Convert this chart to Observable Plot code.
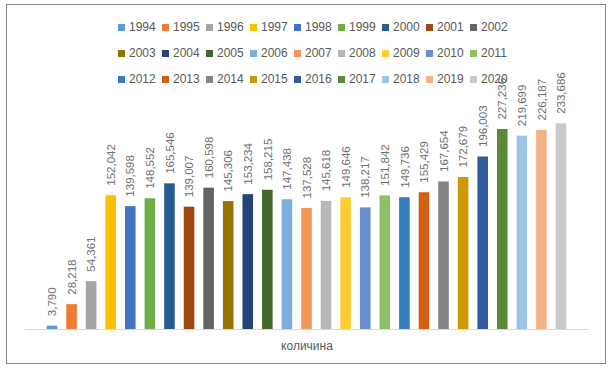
<!DOCTYPE html>
<html>
<head>
<meta charset="utf-8">
<script src="https://cdn.jsdelivr.net/npm/d3@7"></script>
<script src="https://cdn.jsdelivr.net/npm/@observablehq/plot@0.6"></script>
<style>
  html, body { margin: 0; padding: 0; background: #fff; }
  #wrap { position: relative; width: 611px; height: 375px; overflow: hidden; font-family: "Liberation Sans", Arial, sans-serif; }
  #frame { position: absolute; left: 6px; top: 4px; width: 600px; height: 360px; border: 1px solid #8a8a8a; box-sizing: border-box; }
  #legend { position: absolute; left: 118px; top: 0; width: 420px; }
  .item { position: absolute; display: flex; align-items: center; font-size: 12px; color: #595959; white-space: nowrap; }
  .sw { width: 7px; height: 7px; margin-right: 4px; }
  #chart { position: absolute; left: 0; top: 0; }
  #xlabel { position: absolute; left: 0; width: 614px; top: 339px; text-align: center; font-size: 12px; color: #595959; }
</style>
</head>
<body>
<div id="wrap">
  <div id="frame"></div>
  <div id="chart"></div>
  <div id="legend"></div>
  <div id="xlabel">количина</div>
</div>
<script>
const years = ["1994","1995","1996","1997","1998","1999","2000","2001","2002",
               "2003","2004","2005","2006","2007","2008","2009","2010","2011",
               "2012","2013","2014","2015","2016","2017","2018","2019","2020"];
const values = [3790, 28218, 54361, 152042, 139598, 148552, 165546, 139007, 160598,
                145306, 153234, 158215, 147438, 137528, 145618, 149646, 138217, 151842,
                149736, 155429, 167654, 172679, 196003, 227236, 219699, 226187, 233686];
const colors = ["#5B9BD5","#ED7D31","#A5A5A5","#FFC000","#4472C4","#70AD47","#255E91","#9E480E","#636363",
                "#997300","#264478","#43682B","#7CAFDD","#F1975A","#B7B7B7","#FFCD33","#698ED0","#8CC168",
                "#327DC2","#D26012","#848484","#CC9A00","#335AA1","#5A8A39","#9DC3E6","#F4B183","#C9C9C9"];
const xTitle = "количина";

const data = years.map((y, i) => ({year: y, value: values[i]}));
const fmt = d3.format(",");

const chart = Plot.plot({
  width: 611,
  height: 375,
  marginLeft: 25,
  marginRight: 22,
  marginTop: 109,
  marginBottom: 46,
  style: {background: "transparent", fontFamily: "Liberation Sans, Arial, sans-serif"},
  x: {domain: years, range: [42.2, 570.8], paddingInner: 0.46, paddingOuter: 0.23, round: false, axis: null},
  y: {domain: [0, 250000], axis: null},
  color: {domain: years, range: colors},
  marks: [
    Plot.barY(data, {x: "year", y: "value", fill: "year"}),
    Plot.text(data, {x: "year", y: "value", text: d => fmt(d.value), rotate: -90,
      textAnchor: "start", dy: -10, fill: "#6f6f6f", fontSize: 11.5}),
    Plot.ruleY([0], {stroke: "#d9d9d9", strokeWidth: 1.2}),
    Plot.ruleX([0], {x: () => 24.5, y1: 0, y2: 250000, stroke: "#d9d9d9"}),
    Plot.ruleX([0], {x: () => 588.5, y1: 0, y2: 250000, stroke: "#d9d9d9"})
  ]
});
document.getElementById("chart").appendChild(chart);
document.getElementById("xlabel").textContent = xTitle;

const legend = document.getElementById("legend");
years.forEach((y, i) => {
  const row = Math.floor(i / 9), col = i % 9;
  const it = document.createElement("div");
  it.className = "item";
  it.style.left = (col * 44) + "px";
  it.style.top = (27 + row * 26 - 8) + "px";
  it.style.height = "16px";
  const sw = document.createElement("span");
  sw.className = "sw";
  sw.style.background = colors[i];
  const t = document.createElement("span");
  t.textContent = y;
  it.appendChild(sw); it.appendChild(t);
  legend.appendChild(it);
});
</script>
</body>
</html>
